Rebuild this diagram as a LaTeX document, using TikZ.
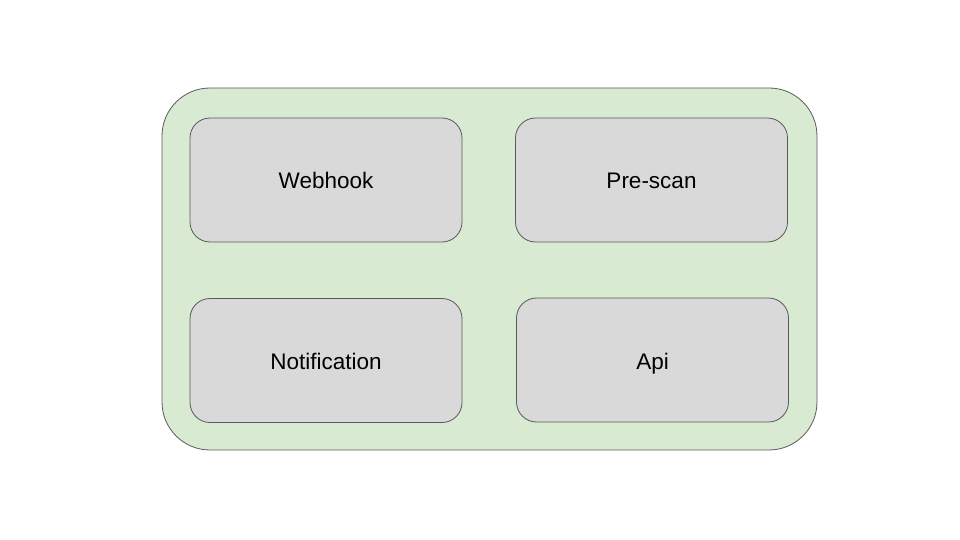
\documentclass[tikz,border=0pt]{standalone}
\usepackage{fontspec}
\setmainfont{Liberation Sans}
\usetikzlibrary{positioning}
\definecolor{panelgreen}{HTML}{D9EAD3}
\definecolor{boxgray}{HTML}{D9D9D9}
\definecolor{edgegray}{HTML}{595959}

\begin{document}
\begin{tikzpicture}[x=1pt, y=-1pt,
		service/.style={draw=edgegray, fill=boxgray, line width=0.8pt, rounded corners=20pt,
			minimum width=272pt, minimum height=124pt, inner sep=0pt,
			text height=21pt, text depth=3pt,
			font=\fontsize{22.5}{27}\selectfont}]
		\useasboundingbox (0,0) rectangle (960,540);

		% Outer panel
		\node[draw=edgegray, fill=panelgreen, line width=0.8pt, rounded corners=48pt,
			minimum width=655pt, minimum height=362pt] (panel) at (489.5,269) {};

		% Services
		\node[service] (webhook) at (326,180) {Webhook};
		\node[service] (prescan) at (651.5,180) {Pre-scan};
		\node[service] (notification) at (326,360.5) {Notification};
		\node[service] (api) at (652.5,360) {Api};
	\end{tikzpicture}
\end{document}
